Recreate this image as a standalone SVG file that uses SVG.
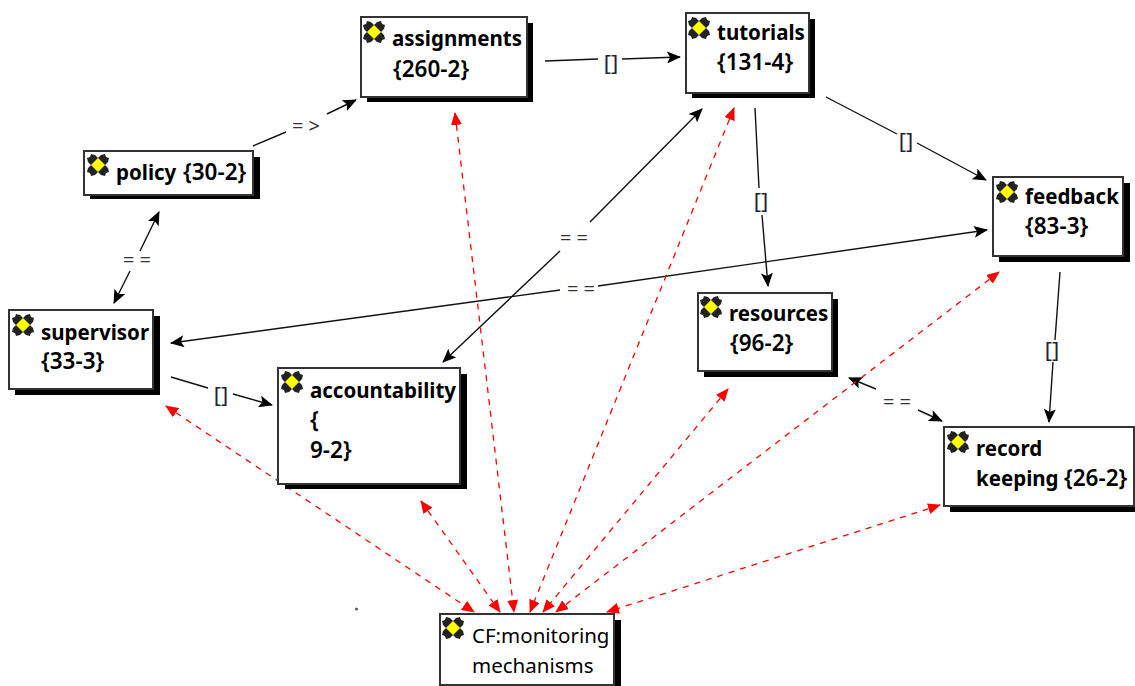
<svg xmlns="http://www.w3.org/2000/svg" width="1135" height="686" viewBox="0 0 1135 686">
<style>
text{font-family:"Noto Sans","Open Sans","Liberation Sans",sans-serif;font-size:20.5px;fill:#000}
.b{font-weight:700}
.n{font-weight:600;font-size:22.5px}
.box{fill:#fff;stroke:#333;stroke-width:2}
.sh{fill:#000}
.l{fill:none;stroke:#111;stroke-width:1.4}
.r{fill:none;stroke:#f00;stroke-width:1.3;stroke-dasharray:6 6}
.lab{font-size:20px;text-anchor:middle;fill:#333}
.br{font-size:22px;text-anchor:middle;fill:#223}
</style>
<defs>
<marker id="a" markerWidth="14" markerHeight="12" refX="13" refY="6" orient="auto-start-reverse" markerUnits="userSpaceOnUse"><path d="M0 0L14 6L0 12L3 6Z" fill="#000"/></marker>
<marker id="ar" markerWidth="13" markerHeight="11" refX="12" refY="5.5" orient="auto-start-reverse" markerUnits="userSpaceOnUse"><path d="M0 0L13 5.5L0 11Z" fill="#f00"/></marker>
<g id="ic"><path d="M-7-11L-3-10L0-7L3-10L7-11L8-8L11-7L10-3L7 0L10 3L11 7L8 8L7 11L3 10L0 7L-3 10L-7 11L-8 8L-11 7L-10 3L-7 0L-10-3L-11-7L-8-8Z" fill="#222"/><path d="M0-7L7 0L0 7L-7 0Z" fill="#ff0" stroke="#aa0" stroke-width="0.5"/></g>
</defs>
<g id="connectors">
<path class="l" marker-end="url(#a)" d="M253 146L286 132M327 114L356 100"/>
<path class="l" marker-end="url(#a)" d="M545 61L598 59M622 59L680 57"/>
<path class="l" marker-end="url(#a)" d="M826 97L897 134M917 143L986 180"/>
<path class="l" marker-end="url(#a)" d="M755 108L759 188M762 215L768 286"/>
<path class="l" marker-end="url(#a)" d="M1060 272L1055 340M1053 362L1049 422"/>
<path class="l" marker-end="url(#a)" d="M171 377L208 388M233 394L272 405"/>
<path class="l" marker-start="url(#a)" marker-end="url(#a)" d="M702 109L590 222M560 251L443 362"/>
<path class="l" marker-start="url(#a)" marker-end="url(#a)" d="M171 343L560 290M598 286L987 230"/>
<path class="l" marker-start="url(#a)" d="M159 212L140 251"/>
<path class="l" marker-start="url(#a)" d="M114 303L130 271"/>
<path class="l" marker-start="url(#a)" d="M849 378L876 389"/>
<path class="l" marker-end="url(#a)" d="M918 410L942 421"/>
<path class="r" marker-start="url(#ar)" marker-end="url(#ar)" d="M166 406L474 612"/>
<path class="r" marker-start="url(#ar)" marker-end="url(#ar)" d="M421 501L500 612"/>
<path class="r" marker-start="url(#ar)" marker-end="url(#ar)" d="M455 113L514 612"/>
<path class="r" marker-start="url(#ar)" marker-end="url(#ar)" d="M734 108L530 612"/>
<path class="r" marker-start="url(#ar)" marker-end="url(#ar)" d="M728 389L543 612"/>
<path class="r" marker-start="url(#ar)" marker-end="url(#ar)" d="M999 272L556 612"/>
<path class="r" marker-start="url(#ar)" marker-end="url(#ar)" d="M940 505L607 612"/>
<text class="lab" x="306" y="133">= &gt;</text>
<text class="br" x="611" y="71">[]</text>
<text class="br" x="906" y="149">[]</text>
<text class="br" x="761" y="209">[]</text>
<text class="br" x="1052" y="358">[]</text>
<text class="br" x="221" y="403">[]</text>
<text class="lab" x="574" y="245">= =</text>
<text class="lab" x="581" y="296">= =</text>
<text class="lab" x="137" y="267">= =</text>
<text class="lab" x="897" y="409">= =</text>
</g>
<circle cx="356.500" cy="609" r="1.500" fill="#555"/>
<g id="assignments"><rect class="sh" x="367" y="23" width="166" height="79"/><rect class="box" x="361" y="17" width="166" height="80"/><use href="#ic" x="374" y="32"/><text class="b" x="392" y="46">assignments</text><text class="n" x="393" y="77">{260-2}</text></g>
<g id="tutorials"><rect class="sh" x="692" y="19" width="123" height="79"/><rect class="box" x="686" y="13" width="123" height="80"/><use href="#ic" x="699" y="28"/><text class="b" x="717" y="40">tutorials</text><text class="n" x="717" y="70">{131-4}</text></g>
<g id="policy"><rect class="sh" x="90" y="157" width="170" height="42"/><rect class="box" x="84" y="151" width="169" height="44"/><use href="#ic" x="98" y="165"/><text class="b" x="116" y="180">policy</text><text class="n" x="183" y="180">{30-2}</text></g>
<g id="supervisor"><rect class="sh" x="15" y="316" width="145" height="79"/><rect class="box" x="9" y="310" width="144" height="79"/><use href="#ic" x="23" y="325"/><text class="b" x="41" y="340">supervisor</text><text class="n" x="41" y="369">{33-3}</text></g>
<g id="accountability"><rect class="sh" x="285" y="374" width="182" height="115"/><rect class="box" x="278" y="368" width="182" height="116"/><use href="#ic" x="292" y="382"/><text class="b" x="310" y="398">accountability</text><text class="n" x="310" y="428">{</text><text class="n" x="310" y="458">9-2}</text></g>
<g id="resources"><rect class="sh" x="704" y="299" width="134" height="78"/><rect class="box" x="698" y="293" width="134" height="78"/><use href="#ic" x="711" y="307"/><text class="b" x="729" y="321">resources</text><text class="n" x="730" y="351">{96-2}</text></g>
<g id="feedback"><rect class="sh" x="999" y="183" width="131" height="79"/><rect class="box" x="993" y="177" width="130" height="79"/><use href="#ic" x="1007" y="192"/><text class="b" x="1025" y="204">feedback</text><text class="n" x="1025" y="234">{83-3}</text></g>
<g id="record-keeping"><rect class="sh" x="950" y="433" width="185" height="79"/><rect class="box" x="944" y="427" width="190" height="79"/><use href="#ic" x="958" y="442"/><text class="b" x="976" y="456">record</text><text class="b" x="976" y="486">keeping</text><text class="n" x="1064" y="486">{26-2}</text></g>
<g id="cf-monitoring"><rect class="sh" x="447" y="620" width="174" height="66"/><rect class="box" x="440" y="614" width="174" height="71"/><use href="#ic" x="453" y="628"/><text x="472" y="643">CF:monitoring</text><text x="472" y="673">mechanisms</text></g>
</svg>
